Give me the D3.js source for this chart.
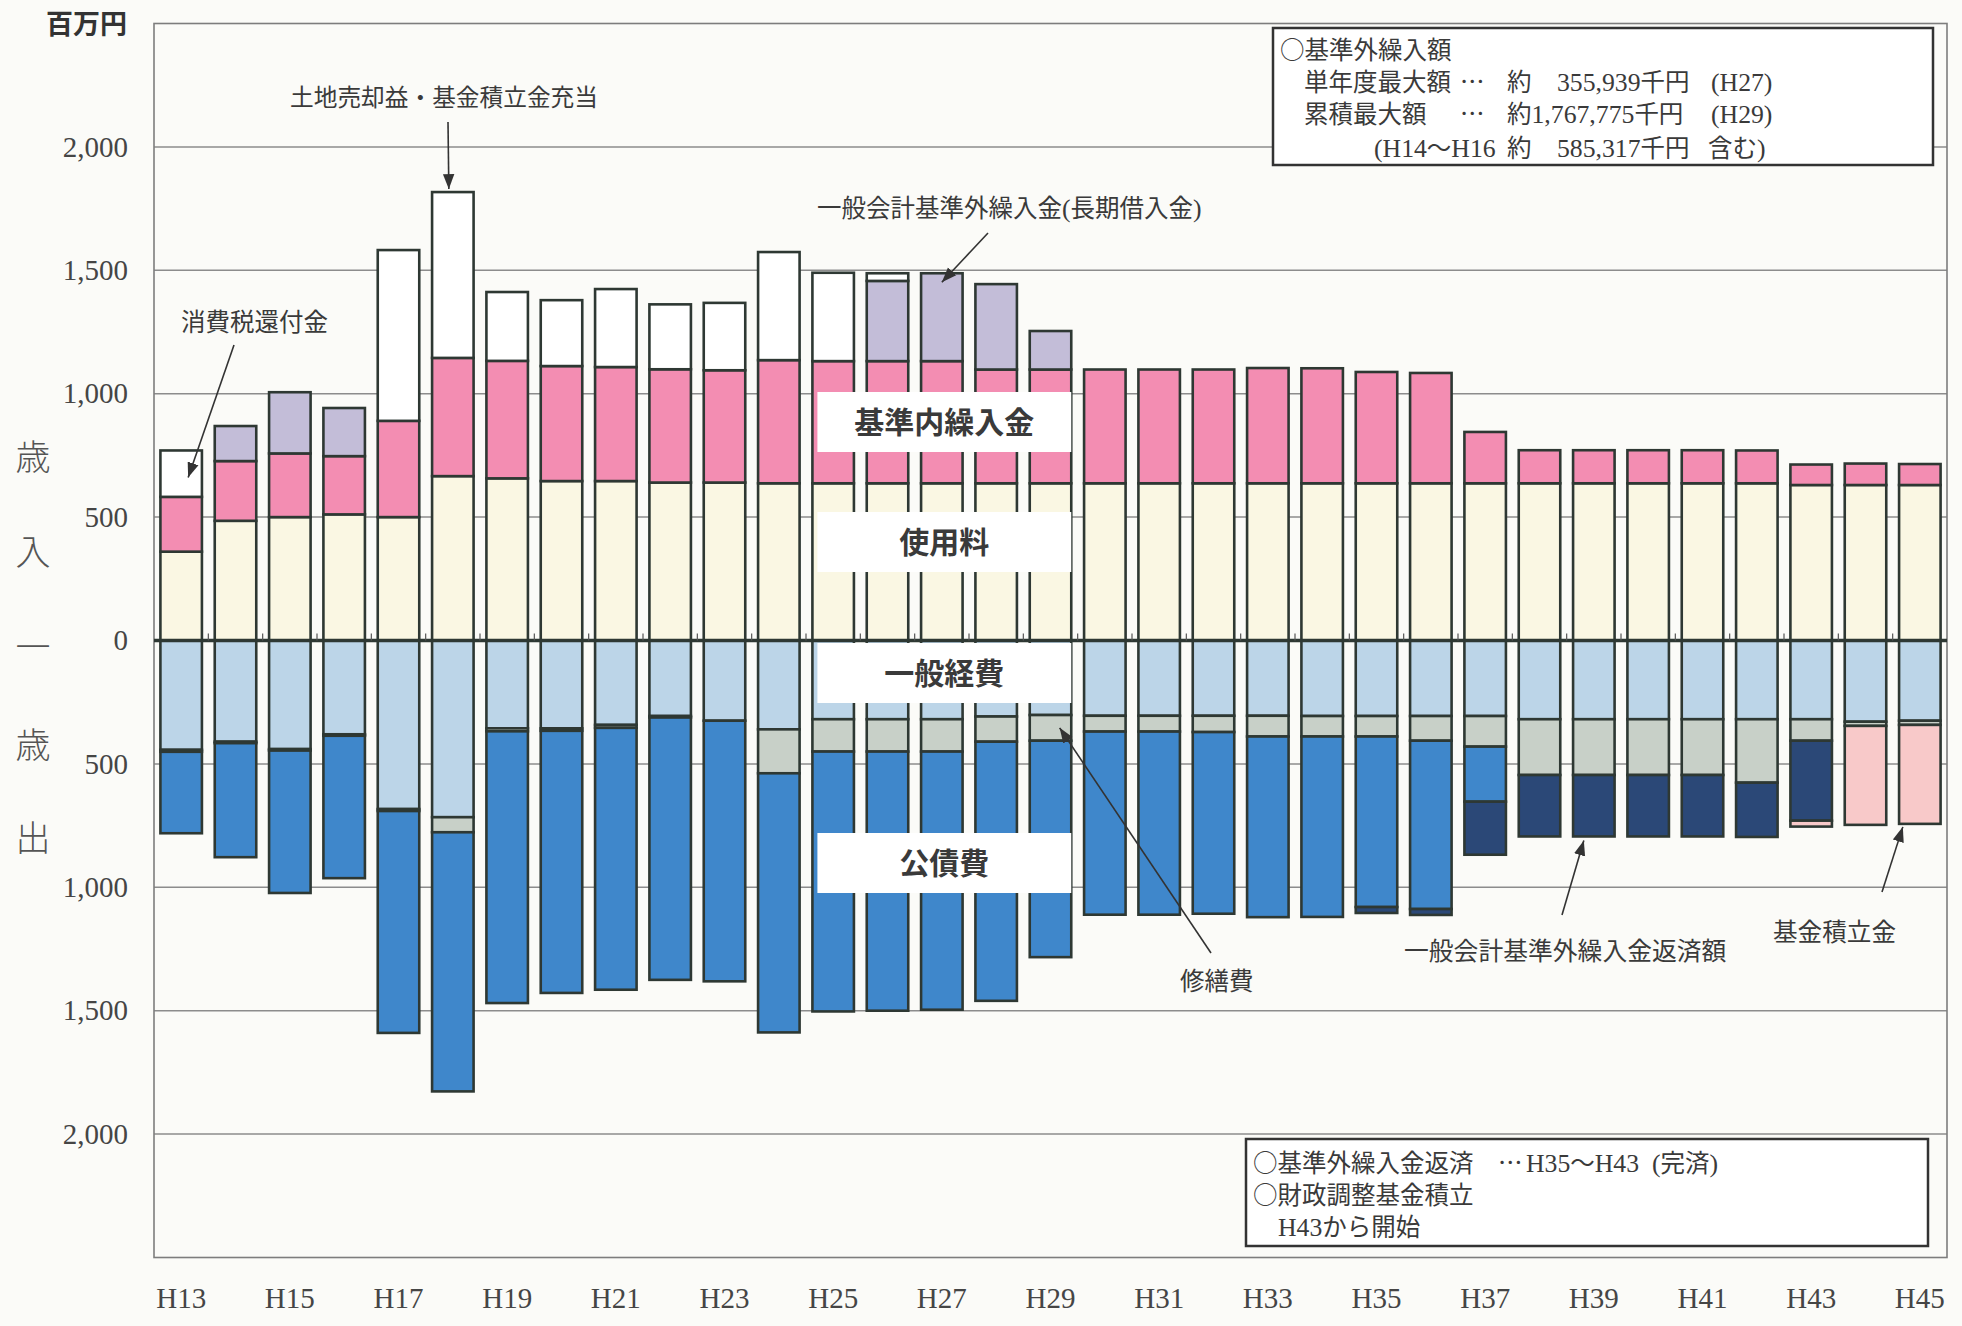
<!DOCTYPE html>
<html><head><meta charset="utf-8">
<script src="https://cdn.jsdelivr.net/npm/d3@7"></script>
<style>
html,body{margin:0;padding:0;background:#fbfbf8;}
svg{display:block;}
</style></head><body>
<svg id="chart" width="1962" height="1326"></svg>
<script>
// ---------------- data (百万円) ----------------
const years = ["H13","H14","H15","H16","H17","H18","H19","H20","H21","H22","H23","H24","H25","H26","H27","H28","H29","H30","H31","H32","H33","H34","H35","H36","H37","H38","H39","H40","H41","H42","H43","H44","H45"];
// 歳入
const usageFees        = [360,485,500,511,500,666,657,646,646,640,640,637,637,637,637,637,637,637,637,637,637,637,637,637,637,637,637,637,637,637,630,630,630]; // 使用料
const standardTransfer = [222,242,258,236,390,479,476,466,462,459,455,499,495,495,495,461,461,461,461,461,467,466,451,447,208,134,134,134,134,133,83,87,85]; // 基準内繰入金
const extraTransfer    = [0,142,248,195,0,0,0,0,0,0,0,0,0,325,356,346,156,0,0,0,0,0,0,0,0,0,0,0,0,0,0,0,0]; // 一般会計基準外繰入金(長期借入金)
const otherRevenue     = [188,0,0,0,692,672,279,267,316,263,273,438,358,31,0,0,0,0,0,0,0,0,0,0,0,0,0,0,0,0,0,0,0]; // 消費税還付金・土地売却益等
// 歳出
const generalExpense   = [443,410,440,380,683,716,356,356,342,306,325,360,319,319,319,308,302,305,305,305,305,306,306,306,306,319,319,319,319,319,319,329,325]; // 一般経費
const repairCost       = [8,6,6,6,8,61,12,10,12,6,0,178,131,131,131,102,104,64,64,66,84,83,83,100,124,226,226,226,226,257,87,17,17]; // 修繕費
const debtService      = [330,462,577,577,899,1050,1101,1062,1061,1063,1056,1050,1053,1050,1046,1050,877,742,742,736,732,731,691,682,223,0,0,0,0,0,0,0,0]; // 公債費
const extraRepayment   = [0,0,0,0,0,0,0,0,0,0,0,0,0,0,0,0,0,0,0,0,0,0,24,24,215,249,249,249,249,220,324,0,0]; // 一般会計基準外繰入金返済額
const fundReserve      = [0,0,0,0,0,0,0,0,0,0,0,0,0,0,0,0,0,0,0,0,0,0,0,0,0,0,0,0,0,0,24,401,401]; // 基金積立金
const yTicks = [-2000,-1500,-1000,-500,0,500,1000,1500,2000];
const xLabels = years.filter((d,i)=>i%2===0);

const seriesDefs = [
  {key:"使用料", values:usageFees, sign:1, color:"#faf7e3"},
  {key:"基準内繰入金", values:standardTransfer, sign:1, color:"#f38db2"},
  {key:"基準外繰入金", values:extraTransfer, sign:1, color:"#c3bdd8"},
  {key:"その他", values:otherRevenue, sign:1, color:"#ffffff"},
  {key:"一般経費", values:generalExpense, sign:-1, color:"#bcd5e8"},
  {key:"修繕費", values:repairCost, sign:-1, color:"#c8d0c8"},
  {key:"公債費", values:debtService, sign:-1, color:"#3f87cb"},
  {key:"返済額", values:extraRepayment, sign:-1, color:"#2b4877"},
  {key:"基金積立金", values:fundReserve, sign:-1, color:"#f8c9c9"}
];
const rows = years.map((yr,i)=>{
  const r = {year:yr};
  seriesDefs.forEach(s=>{ r[s.key] = s.sign*s.values[i]; });
  return r;
});

// ---------------- layout ----------------
const L=154, R=1947, T=23.5, B=1257.5;
const svg = d3.select("#chart");
const x = d3.scaleBand().domain(years).range([L,R]).paddingInner(0.236).paddingOuter(0.118);
const y = d3.scaleLinear().domain([-2500,2500]).range([B,T]);
const bw = x.bandwidth();
const CJK = "'Noto Sans CJK JP','Noto Sans CJK SC',sans-serif";
const SERIF = "'Liberation Serif','DejaVu Serif',serif";

svg.append("rect").attr("width",1962).attr("height",1326).attr("fill","#fbfbf8");

// grid
svg.append("g").selectAll("line").data(yTicks.filter(d=>d!==0)).join("line")
  .attr("x1",L).attr("x2",R).attr("y1",d=>y(d)).attr("y2",d=>y(d))
  .attr("stroke","#8c8c8c").attr("stroke-width",1.5);
svg.append("rect").attr("x",L).attr("y",T).attr("width",R-L).attr("height",B-T)
  .attr("fill","none").attr("stroke","#7d7d7d").attr("stroke-width",1.6);

// bars
const stack = d3.stack().keys(seriesDefs.map(s=>s.key)).offset(d3.stackOffsetDiverging);
const stacked = stack(rows);
const barG = svg.append("g");
stacked.forEach((layer,li)=>{
  barG.append("g").attr("fill",seriesDefs[li].color)
    .selectAll("rect").data(layer.filter(d=>d[1]!==d[0])).join("rect")
    .attr("x",d=>x(d.data.year))
    .attr("width",bw)
    .attr("y",d=>y(Math.max(d[0],d[1])))
    .attr("height",d=>Math.abs(y(d[0])-y(d[1])))
    .attr("stroke","#2e3833").attr("stroke-width",2.6);
});

// zero line & category ticks
svg.append("line").attr("x1",L).attr("x2",R).attr("y1",y(0)).attr("y2",y(0))
  .attr("stroke","#2e3833").attr("stroke-width",3.5);
const step = x.step();
svg.append("g").selectAll("line").data(years.slice(1)).join("line")
  .attr("x1",d=>x(d)-(step-bw)/2).attr("x2",d=>x(d)-(step-bw)/2)
  .attr("y1",y(0)).attr("y2",y(0)-7)
  .attr("stroke","#555").attr("stroke-width",1.2);

// axes
const yAxis = svg.append("g").attr("transform",`translate(${L},0)`)
  .call(d3.axisLeft(y).tickValues(yTicks).tickSize(0).tickPadding(26)
    .tickFormat(d=>d3.format(",")(Math.abs(d))));
yAxis.select(".domain").remove();
yAxis.selectAll("text").attr("font-family",SERIF).attr("font-size",29).attr("fill","#454545");

const xAxis = svg.append("g").attr("transform",`translate(0,${B})`)
  .call(d3.axisBottom(x).tickValues(xLabels).tickSize(0).tickPadding(30));
xAxis.select(".domain").remove();
xAxis.selectAll("text").attr("font-family",SERIF).attr("font-size",29).attr("fill","#454545");

// mixed-font text helper
function mixed(g, str, xx, yy, size, opt={}){
  const t = g.append("text").attr("x",xx).attr("y",yy).attr("font-size",size)
    .attr("fill",opt.fill||"#3a3a3a").attr("text-anchor",opt.anchor||"start");
  const parts = str.split(/([0-9A-Za-z,.()]+)/).filter(s=>s.length);
  parts.forEach(p=>{
    const isLatin = /^[0-9A-Za-z,.()]+$/.test(p);
    t.append("tspan").text(p).attr("font-family",isLatin?SERIF:CJK)
      .attr("font-size",isLatin?size*1.05:size);
  });
  return t;
}
const ann = svg.append("g");

// unit label
ann.append("text").attr("x",46).attr("y",34).attr("font-family",CJK).attr("font-size",27)
  .attr("font-weight",700).attr("fill","#333").text("百万円");

// vertical y title
const yTitle = ["歳","入","一","歳","出"];
const yTitleY = [457,552,647,745,838];
ann.selectAll("text.yt").data(yTitle).join("text").attr("class","yt")
  .attr("x",33).attr("y",(d,i)=>yTitleY[i]).attr("dy","0.36em").attr("text-anchor","middle")
  .attr("font-family",CJK).attr("font-size",35).attr("font-weight",300).attr("fill","#555")
  .text(d=>d);

// white label boxes over bars
const boxX0 = x("H25")+5, boxX1 = x("H29")+bw;
const boxes = [
  {t:"基準内繰入金", y0:392, y1:452},
  {t:"使用料", y0:512, y1:572},
  {t:"一般経費", y0:643, y1:703},
  {t:"公債費", y0:833, y1:893}
];
boxes.forEach(b=>{
  ann.append("rect").attr("x",boxX0).attr("y",b.y0).attr("width",boxX1-boxX0).attr("height",b.y1-b.y0)
    .attr("fill","#ffffff");
  ann.append("text").attr("x",(boxX0+boxX1)/2).attr("y",(b.y0+b.y1)/2).attr("dy","0.36em")
    .attr("text-anchor","middle").attr("font-family",CJK).attr("font-size",30).attr("font-weight",700)
    .attr("fill","#3a3a3a").text(b.t);
});

// arrow marker
svg.append("defs").append("marker").attr("id","ah").attr("viewBox","0 0 10 10")
  .attr("refX",10).attr("refY",5).attr("markerWidth",15).attr("markerHeight",15)
  .attr("markerUnits","userSpaceOnUse").attr("orient","auto")
  .append("path").attr("d","M0,1.2 L10,5 L0,8.8 Z").attr("fill","#333");

const iy = s=>years.indexOf(s);
const revTotal = i=>usageFees[i]+standardTransfer[i]+extraTransfer[i]+otherRevenue[i];
const expTotal = i=>generalExpense[i]+repairCost[i]+debtService[i]+extraRepayment[i]+fundReserve[i];
const arrows = [
  {x1:448,y1:122, x2:x("H18")+bw/2-4, y2:y(revTotal(iy("H18")))-3},
  {x1:988,y1:233, x2:x("H27")+bw/2, y2:y(revTotal(iy("H27")))+9},
  {x1:234,y1:345, x2:x("H13")+bw/2+7, y2:y(660)},
  {x1:1211,y1:953, x2:x("H29")+bw*0.72, y2:y(-(generalExpense[iy("H29")]+repairCost[iy("H29")]/2))},
  {x1:1562,y1:915, x2:x("H39")+bw/2-10, y2:y(-expTotal(iy("H39")))+4},
  {x1:1882,y1:892, x2:x("H45")+bw/2-17, y2:y(-expTotal(iy("H45")))+3}
];
ann.selectAll("line.ar").data(arrows).join("line").attr("class","ar")
  .attr("x1",d=>d.x1).attr("y1",d=>d.y1).attr("x2",d=>d.x2).attr("y2",d=>d.y2)
  .attr("stroke","#333").attr("stroke-width",1.6).attr("marker-end","url(#ah)");

// annotation texts
mixed(ann,"土地売却益・基金積立金充当",290,106,23.7);
mixed(ann,"一般会計基準外繰入金(長期借入金)",817,217,24.5);
mixed(ann,"消費税還付金",181,331,24.5);
mixed(ann,"修繕費",1180,990,24.5);
mixed(ann,"一般会計基準外繰入金返済額",1404,960,24.8);
mixed(ann,"基金積立金",1773,941,24.6);

// top info box
ann.append("rect").attr("x",1273).attr("y",28).attr("width",660).attr("height",137)
  .attr("fill","#ffffff").attr("stroke","#333").attr("stroke-width",2.5);
const fs=24.5;
mixed(ann,"○基準外繰入額",1280,59,fs);
mixed(ann,"単年度最大額",1304,91,fs); mixed(ann,"…",1460,91,fs); mixed(ann,"約",1507,91,fs);
mixed(ann,"355,939千円",1557,91,fs); mixed(ann,"(H27)",1711,91,fs);
mixed(ann,"累積最大額",1304,123,fs); mixed(ann,"…",1460,123,fs);
mixed(ann,"約1,767,775千円",1507,123,fs); mixed(ann,"(H29)",1711,123,fs);
mixed(ann,"(H14～H16",1374,157,fs); mixed(ann,"約",1507,157,fs);
mixed(ann,"585,317千円",1557,157,fs); mixed(ann,"含む)",1708,157,fs);

// bottom info box
ann.append("rect").attr("x",1246).attr("y",1139).attr("width",682).attr("height",107)
  .attr("fill","#ffffff").attr("stroke","#333").attr("stroke-width",2.5);
mixed(ann,"○基準外繰入金返済",1253,1172,fs); mixed(ann,"…",1498,1172,fs);
mixed(ann,"H35～H43",1526,1172,fs); mixed(ann,"(完済)",1652,1172,fs);
mixed(ann,"○財政調整基金積立",1253,1204,fs);
mixed(ann,"H43から開始",1278,1236,fs);
</script>
</body></html>
